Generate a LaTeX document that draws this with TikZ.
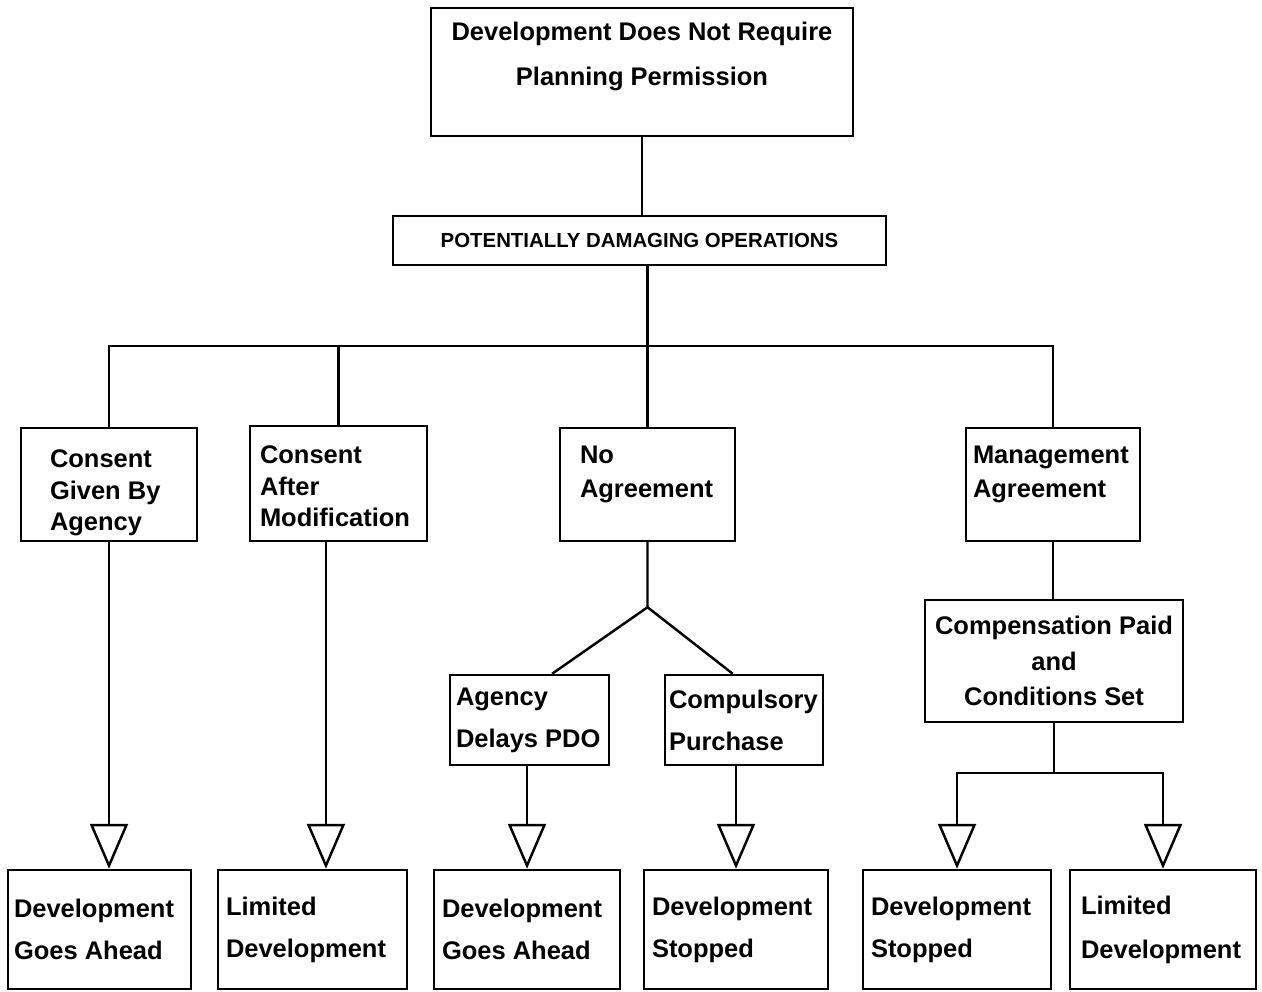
\documentclass[tikz,border=0pt]{standalone}
\usepackage{fontspec}
\setmainfont{Liberation Sans}
\usetikzlibrary{arrows.meta, calc, positioning}
\tikzset
{
bx/.style={draw, rectangle, line width=1.4pt, inner ysep=0pt, align=flush left},
fs/.style={font=\bfseries\fontsize{14.5}{#1}\selectfont},
td/.style={text depth=#1},
ln/.style={line width=1.4pt},
tri/.style={line width=1.4pt, -{Triangle[open, length=0.9cm, width=0.76cm]}}
}

\begin{document}
\begin{tikzpicture}
	\useasboundingbox (0,0) rectangle (25.24,-19.82);

		% [TOP]
		\node[bx, fs=26, td=46.9pt, align=flush center, inner xsep=0.12cm, text width=8.2cm, minimum height=2.56cm] (top) at (12.84,-1.44) {Development Does Not Require\\Planning Permission};
		\node[bx, font=\bfseries\fontsize{11.6}{13}\selectfont, minimum width=9.86cm, minimum height=0.98cm] (pdo) at (12.79,-4.81) {POTENTIALLY DAMAGING OPERATIONS};

		% [SECOND ROW]
		\node[bx, fs=18, td=29.3pt, inner xsep=0.58cm, text width=2.36cm, minimum height=2.26cm] (cga) at (2.18,-9.69) {Consent\\Given By\\Agency};
		\node[bx, fs=18, td=32.7pt, inner xsep=0.20cm, text width=3.14cm, minimum height=2.30cm] (cam) at (6.77,-9.67) {Consent\\After\\Modification};
		\node[bx, fs=19.4, td=33.8pt, inner xsep=0.40cm, text width=2.70cm, minimum height=2.26cm] (noa) at (12.95,-9.69) {No\\Agreement};
		\node[bx, fs=19.4, td=33.8pt, inner xsep=0.14cm, text width=3.20cm, minimum height=2.26cm] (mga) at (21.06,-9.69) {Management\\Agreement};

		% [THIRD ROW]
		\node[bx, fs=24, inner xsep=0.12cm, text width=2.94cm, minimum height=1.80cm] (adp) at (10.59,-14.40) {Agency\\Delays PDO};
		\node[bx, fs=24, inner xsep=0.08cm, text width=3.00cm, minimum height=1.80cm] (cp) at (14.88,-14.40) {Compulsory\\Purchase};
		\node[bx, fs=20, align=flush center, inner xsep=0.1cm, text width=4.96cm, minimum height=2.44cm] (cps) at (21.08,-13.22) {Compensation Paid\\and\\Conditions Set};

		% [OUTCOMES]
		\node[bx, fs=24, inner xsep=0.12cm, text width=3.42cm, minimum height=2.38cm] (ga1) at (1.99,-18.59) {Development\\Goes Ahead};
		\node[bx, fs=24, inner xsep=0.16cm, text width=3.46cm, minimum height=2.38cm] (ld1) at (6.25,-18.59) {Limited\\Development};
		\node[bx, fs=24, inner xsep=0.16cm, text width=3.40cm, minimum height=2.38cm] (ga2) at (10.54,-18.59) {Development\\Goes Ahead};
		\node[bx, fs=24, inner xsep=0.16cm, text width=3.36cm, minimum height=2.38cm] (ds1) at (14.72,-18.59) {Development\\Stopped};
		\node[bx, fs=24, inner xsep=0.16cm, text width=3.44cm, minimum height=2.38cm] (ds2) at (19.14,-18.59) {Development\\Stopped};
		\node[bx, fs=25, inner xsep=0.22cm, text width=3.28cm, minimum height=2.38cm] (ld2) at (23.26,-18.59) {Limited\\Development};

		% helper points
		\coordinate (bus) at (12.95,-6.92);
		\coordinate (fork) at ($(noa.south)+(0,-1.3)$);
		\coordinate (cm) at ($(cam.south west)!0.43!(cam.south east)$);
		\coordinate (split) at ($(cps.south)+(0,-1)$);

		% links
		\draw[ln] (top.south) -- (top.south |- pdo.north);
		\draw[ln] (noa.north) -- (noa.north |- pdo.south);
		\draw[ln] (cga.north) |- (bus) -| (mga.north);
		\draw[ln] (cam.north) -- (cam.north |- bus);
		\draw[ln] (noa.south) -- (fork) -- ($(adp.north west)!0.64!(adp.north east)$);
		\draw[ln] (fork) -- ($(cp.north west)!0.43!(cp.north east)$);
		\draw[ln] (mga.south) -- (mga.south |- cps.north);
		\draw[ln] (cps.south) -- (split);

		% arrows
		\draw[tri] (cga.south) -- (cga.south |- ga1.north);
		\draw[tri] (cm) -- (cm |- ld1.north);
		\draw[tri] (ga2.north |- adp.south) -- (ga2.north);
		\draw[tri] (ds1.north |- cp.south) -- (ds1.north);
		\draw[tri] (split) -| (ds2.north);
		\draw[tri] (split) -| (ld2.north);
\end{tikzpicture}
\end{document}
